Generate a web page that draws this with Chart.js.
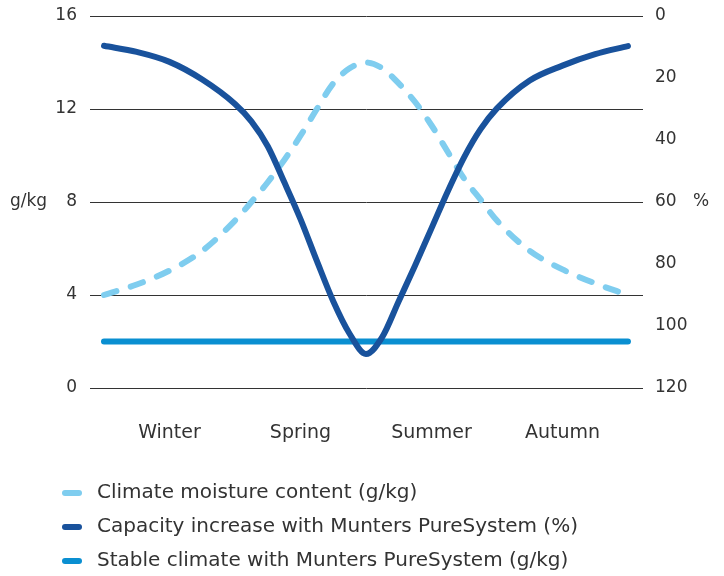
<!DOCTYPE html>
<html>
<head>
<meta charset="utf-8">
<script src="https://cdn.jsdelivr.net/npm/chart.js@4/dist/chart.umd.min.js"></script>
<style>
  html, body { margin: 0; padding: 0; background: #fff; }
  #wrap { width: 724px; height: 576px; }
</style>
</head>
<body>
<div id="wrap"><canvas id="climate_chart"></canvas></div>
<script>
// positions along the year, 0 = start of winter, 4 = end of autumn
var xs = [0, 0.25, 0.5, 0.75, 1, 1.125, 1.25, 1.375, 1.5, 1.625, 1.75, 1.875, 2, 2.125, 2.25, 2.375, 2.5, 2.625, 2.75, 2.875, 3, 3.25, 3.5, 3.75, 4];
var moisture = [4.0, 4.45, 5.05, 5.9, 7.2, 8.0, 8.85, 9.8, 10.85, 12.0, 13.1, 13.75, 14.0, 13.75, 13.1, 12.3, 11.3, 10.15, 9.0, 8.1, 7.2, 5.9, 5.1, 4.5, 4.0];
var capacity = [9.6, 11.6, 14.8, 20.5, 28.4, 34, 42, 53.5, 65.5, 79, 92, 102.5, 109, 103.5, 92, 80.5, 68.5, 56.5, 45.5, 36.5, 29.8, 20.8, 16, 12.3, 9.7];
var stable = [2, 2, 2, 2, 2, 2, 2, 2, 2, 2, 2, 2, 2, 2, 2, 2, 2, 2, 2, 2, 2, 2, 2, 2, 2];

var seasons = ["Winter", "Spring", "Summer", "Autumn"];
var seasonCenters = [0.5, 1.5, 2.5, 3.5];
var leftTicks = [0, 4, 8, 12, 16];
var rightTicks = [0, 20, 40, 60, 80, 100, 120];

var labels = ["Climate moisture content (g/kg)", "Capacity increase with Munters PureSystem (%)", "Stable climate with Munters PureSystem (g/kg)"];

function points(vals){
	return xs.map(function(x, i){ return {x: x, y: vals[i]}; });
}

var textColor = "#333333";
var fontName = "DejaVu Sans";

// small rounded bar used as legend marker, with some room on its right
function swatch(color){
	var c = document.createElement("canvas");
	c.width = 25;
	c.height = 6;
	var g = c.getContext("2d");
	g.fillStyle = color;
	g.beginPath();
	g.roundRect(0, 0, 20, 6, 3);
	g.fill();
	return c;
}

// horizontal axis titles (g/kg and %)
var axisTitles = {
	id: "axisTitles",
	afterDraw: function(chart){
		var ctx = chart.ctx;
		var y = chart.scales.y.getPixelForValue(8);
		ctx.save();
		ctx.fillStyle = textColor;
		ctx.font = "17px " + fontName;
		ctx.textBaseline = "middle";
		ctx.textAlign = "left";
		ctx.fillText("g/kg", chart.chartArea.left - 80, y);
		ctx.fillText("%", chart.chartArea.right + 50, y);
		ctx.restore();
	}
};

var ctx = document.getElementById("climate_chart").getContext("2d");

var myChart = new Chart(ctx, {
	type: "line",
	data: {
		datasets: [
			{
				label: labels[0],
				data: points(moisture),
				yAxisID: "y",
				borderColor: "#7fcdef",
				backgroundColor: "#7fcdef",
				borderWidth: 6,
				borderDash: [13, 15],
				borderCapStyle: "round",
				borderJoinStyle: "round",
				cubicInterpolationMode: "monotone",
				pointRadius: 0,
				order: 3
			},
			{
				label: labels[1],
				data: points(capacity),
				yAxisID: "y2",
				borderColor: "#19529c",
				backgroundColor: "#19529c",
				borderWidth: 6,
				borderCapStyle: "round",
				borderJoinStyle: "round",
				cubicInterpolationMode: "monotone",
				pointRadius: 0,
				order: 1
			},
			{
				label: labels[2],
				data: points(stable),
				yAxisID: "y",
				borderColor: "#0a8fd1",
				backgroundColor: "#0a8fd1",
				borderWidth: 6,
				borderCapStyle: "round",
				pointRadius: 0,
				order: 2
			}
		]
	},
	options: {
		responsive: true,
		maintainAspectRatio: false,
		animation: false,
		layout: {
			padding: {left: 48, right: 0, top: 16, bottom: -5}
		},
		plugins: {
			tooltip: {enabled: false},
			legend: {
				position: "bottom",
				align: "start",
				labels: {
					color: textColor,
					font: {family: fontName, size: 20},
					usePointStyle: true,
					pointStyleWidth: 25,
					boxHeight: 6,
					padding: 14,
					sort: function(a, b){ return a.datasetIndex - b.datasetIndex; },
					generateLabels: function(chart){
						var items = Chart.defaults.plugins.legend.labels.generateLabels(chart);
						items.forEach(function(item){
							item.pointStyle = swatch(chart.data.datasets[item.datasetIndex].borderColor);
							item.lineWidth = 0;
							item.lineDash = [];
						});
						return items;
					}
				}
			}
		},
		scales: {
			x: {
				type: "linear",
				min: -0.107,
				max: 4.115,
				grid: {display: false, drawTicks: false},
				border: {display: false},
				afterBuildTicks: function(scale){
					scale.ticks = seasonCenters.map(function(v){ return {value: v}; });
				},
				afterFit: function(scale){ scale.height = 81; },
				ticks: {
					color: textColor,
					font: {family: fontName, size: 19},
					padding: 34,
					maxRotation: 0,
					callback: function(value){
						return seasons[seasonCenters.indexOf(value)];
					}
				}
			},
			y: {
				position: "left",
				min: 0,
				max: 16,
				afterBuildTicks: function(scale){
					scale.ticks = leftTicks.map(function(v){ return {value: v}; });
				},
				afterFit: function(scale){
					scale.width = 42;
					scale.paddingTop = 0;
					scale.paddingBottom = 0;
				},
				grid: {color: "#333333", lineWidth: 1, drawTicks: false},
				border: {display: false},
				ticks: {
					color: textColor,
					font: {family: fontName, size: 17},
					padding: 13
				}
			},
			y2: {
				position: "right",
				reverse: true,
				min: 0,
				max: 120,
				afterBuildTicks: function(scale){
					scale.ticks = rightTicks.map(function(v){ return {value: v}; });
				},
				afterFit: function(scale){
					scale.width = 81;
					scale.paddingTop = 0;
					scale.paddingBottom = 0;
				},
				grid: {display: false, drawTicks: false},
				border: {display: false},
				ticks: {
					color: textColor,
					font: {family: fontName, size: 17},
					padding: 12
				}
			}
		}
	},
	plugins: [axisTitles]
});
</script>
</body>
</html>
